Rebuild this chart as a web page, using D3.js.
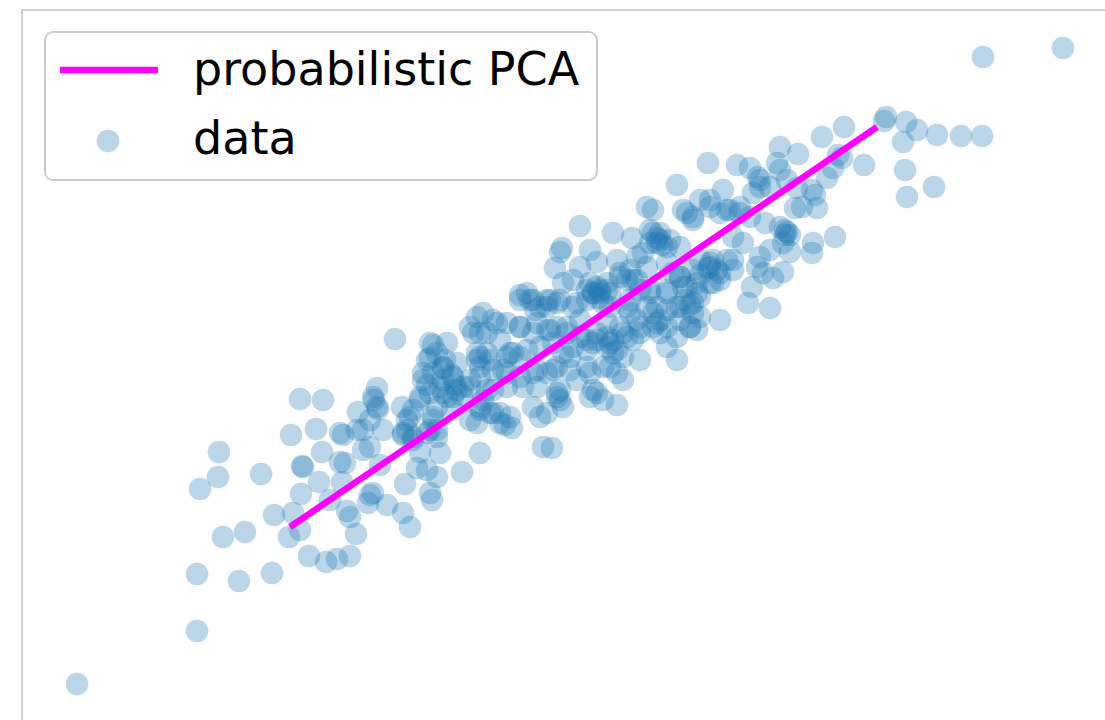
<!DOCTYPE html>
<html>
<head>
<meta charset="utf-8">
<script src="https://cdn.jsdelivr.net/npm/d3@7"></script>
<style>
  html, body { margin: 0; padding: 0; background: #ffffff; }
  svg { display: block; font-family: "DejaVu Sans", sans-serif; }
</style>
</head>
<body>
<svg id="chart" width="1105" height="720"></svg>
<script>
var width = 1105;
var height = 720;

// scatter data (x to the right, y upwards)
var dataX = [
  77, 197, 197, 239, 272, 223, 245, 200, 218, 219, 261, 291, 316, 274, 293, 289, 300, 301, 302, 303,
  319, 322, 330, 309, 326, 337, 350, 356, 350, 347, 370, 368, 345, 342, 370, 340, 357,
  395, 300, 323, 377, 374, 358, 378, 383, 387, 403, 410, 402, 410, 407, 403, 420, 427, 423, 430,
  433, 447, 443, 440, 452, 457, 447, 433, 437, 427, 413, 420, 427, 417, 437, 440, 430, 432, 462,
  480, 470, 470, 473, 477, 470, 457, 463, 452, 543, 552, 405,
  580, 613, 632, 562, 560, 590, 555, 580, 597, 617, 647, 653, 683, 693, 710, 720, 650, 660, 657, 670,
  680, 637, 630, 647, 667, 680, 693, 710, 713, 720, 713, 697, 687, 667, 650, 637, 620, 607, 590, 593,
  573, 563, 527, 520, 533, 540, 550, 547, 560, 573, 587, 600, 603, 630, 637, 647, 653, 667, 680, 693,
  700, 690, 697, 720, 680, 677, 660, 653, 640, 633, 623, 613, 607, 597, 587, 580, 567, 557, 547, 533,
  520, 507, 493, 483, 487, 500, 513, 507, 527, 540, 553, 563, 573, 587, 593, 607, 613, 623, 640, 667,
  677, 487, 480, 493, 507, 520, 533, 547, 557, 570, 577, 590, 603, 617, 623, 593, 603, 617, 590, 557,
  560, 537, 523, 507, 493, 483, 500, 510, 500, 533, 547, 563, 540,
  708, 677, 700,
  780, 798, 737, 750, 758, 777, 780, 787, 760, 753, 770, 797, 723, 730, 740, 750, 765, 780, 787, 790,
  783, 835, 813, 812, 790, 770, 760, 757, 743, 733, 733, 763, 773, 783, 752, 748, 770, 795,
  983, 1063, 886, 884, 906, 917, 937, 961, 982, 903, 905, 934, 907, 844, 822, 838, 842, 864, 833, 827,
  812, 815, 817, 802,
  530, 547, 557, 587, 597, 607, 627, 577, 550, 567, 580, 597, 610, 617, 510, 520, 490, 480, 537, 553,
  570, 560, 557, 597, 480, 493, 503, 587, 610, 627, 477, 497, 520, 537,
  653, 660, 650, 667, 643, 687, 693, 710, 727, 740, 710, 717, 700, 727, 733, 680, 673, 683, 697, 710,
  667, 650, 633, 620, 610, 600, 610, 627, 657, 677, 693, 700, 657, 667, 690, 640, 620, 607,
  430, 437, 427, 443, 433, 423, 443, 453, 430, 443, 453, 420, 413, 437, 407, 433, 373, 377, 370, 403,
  413, 430, 437, 477, 480, 470, 487, 480, 490, 477, 480,
  340, 363, 373, 343, 785, 760,
  657, 662, 593, 598, 708, 700, 785, 505, 512, 685, 690, 630, 640, 455, 462, 445, 520, 535, 363, 380,
  720, 660
];
var dataY = [
  36, 89, 146, 139, 147, 183, 188, 231, 243, 268, 246, 285, 291, 205, 207, 183, 190, 226, 254, 253,
  238, 268, 220, 164, 158, 161, 164, 186, 203, 209, 225, 217, 257, 238, 273, 287, 290,
  381, 321, 320, 332, 320, 308, 311, 290, 215, 207, 193, 313, 303, 290, 285, 323, 335, 347, 362,
  375, 377, 352, 333, 345, 357, 323, 303, 290, 287, 280, 268, 250, 252, 243, 267, 227, 220, 248,
  267, 300, 393, 387, 367, 340, 330, 333, 312, 273, 272, 236,
  494, 487, 482, 472, 468, 470, 452, 453, 458, 460, 513, 510, 510, 503, 513, 507, 490, 487, 477, 480,
  473, 463, 450, 453, 457, 443, 450, 453, 460, 447, 437, 427, 433, 430, 427, 440, 443, 437, 437, 427,
  440, 437, 427, 425, 420, 413, 420, 413, 420, 413, 420, 427, 417, 407, 400, 413, 407, 410, 413, 417,
  403, 393, 390, 400, 400, 383, 387, 393, 387, 380, 387, 380, 383, 387, 380, 400, 393, 393, 390, 387,
  393, 397, 400, 407, 387, 380, 367, 363, 370, 373, 377, 367, 373, 370, 377, 373, 367, 363, 360, 373,
  360, 367, 353, 350, 347, 343, 347, 347, 353, 350, 340, 347, 353, 347, 340, 330, 320, 315, 323, 327,
  320, 333, 333, 333, 330, 320, 307, 303, 297, 313, 307, 313, 303,
  557, 535, 520,
  573, 566, 555, 552, 543, 557, 550, 540, 533, 527, 533, 532, 530, 510, 513, 503, 497, 493, 488, 485,
  477, 483, 477, 467, 468, 470, 463, 453, 477, 483, 460, 447, 442, 448, 433, 417, 412, 512,
  663, 672, 603, 599, 598, 590, 585, 584, 584, 578, 550, 533, 523, 593, 583, 565, 562, 555, 552, 542,
  530, 525, 512, 513,
  420, 420, 417, 430, 433, 430, 440, 417, 390, 387, 383, 380, 377, 370, 367, 363, 360, 363, 350, 350,
  363, 330, 323, 327, 310, 307, 350, 353, 353, 383, 403, 397, 393, 397,
  487, 480, 477, 473, 467, 507, 500, 520, 510, 507, 457, 450, 460, 460, 450, 443, 447, 433, 437, 437,
  427, 430, 440, 447, 427, 430, 413, 413, 413, 413, 407, 423, 397, 393, 393, 393, 393, 397,
  377, 367, 360, 353, 347, 340, 340, 343, 327, 327, 323, 320, 310, 313, 300, 300, 323, 313, 300, 287,
  283, 290, 283, 360, 343, 333, 330, 313, 307, 297, 387,
  258, 290, 227, 285, 490, 540,
  482, 475, 427, 422, 452, 445, 485, 295, 292, 420, 415, 420, 430, 335, 325, 360, 420, 410, 270, 255,
  440, 400
];

// fitted probabilistic PCA line (two end points)
var lineX = [290, 877];
var lineY = [193, 593];

var seriesNames = ["probabilistic PCA", "data"];

var svg = d3.select("#chart");

var x = d3.scaleLinear().domain([0, width]).range([0, width]);
var y = d3.scaleLinear().domain([0, height]).range([height, 0]);

// axes frame (only left and top spines are inside the picture)
svg.append("rect")
    .attr("x", 22)
    .attr("y", 10)
    .attr("width", 1200)
    .attr("height", 800)
    .attr("fill", "none")
    .attr("stroke", "#cfcfcf")
    .attr("stroke-width", 2);

var points = d3.range(dataX.length).map(function (i) {
    return { x: dataX[i], y: dataY[i] };
});

svg.append("g")
    .selectAll("circle")
    .data(points)
    .enter()
    .append("circle")
    .attr("cx", function (d) { return x(d.x); })
    .attr("cy", function (d) { return y(d.y); })
    .attr("r", 11.3)
    .attr("fill", "#1f77b4")
    .attr("fill-opacity", 0.3);

// PCA line
var line = d3.line()
    .x(function (d) { return x(d[0]); })
    .y(function (d) { return y(d[1]); });

svg.append("path")
    .datum(d3.zip(lineX, lineY))
    .attr("d", line)
    .attr("fill", "none")
    .attr("stroke", "#ff00ff")
    .attr("stroke-width", 6.5);

// legend
var legend = svg.append("g");
legend.append("rect")
    .attr("x", 45)
    .attr("y", 32)
    .attr("width", 552)
    .attr("height", 148)
    .attr("rx", 8)
    .attr("fill", "#ffffff")
    .attr("fill-opacity", 0.8)
    .attr("stroke", "#cccccc")
    .attr("stroke-width", 2);

legend.append("line")
    .attr("x1", 60)
    .attr("x2", 158)
    .attr("y1", 70)
    .attr("y2", 70)
    .attr("stroke", "#ff00ff")
    .attr("stroke-width", 6.5);

legend.append("circle")
    .attr("cx", 108)
    .attr("cy", 141)
    .attr("r", 11.3)
    .attr("fill", "#1f77b4")
    .attr("fill-opacity", 0.3);

legend.selectAll("text")
    .data(seriesNames)
    .enter()
    .append("text")
    .attr("x", 193)
    .attr("y", function (d, i) { return i === 0 ? 85 : 154; })
    .attr("font-size", "46px")
    .attr("fill", "#000000")
    .text(function (d) { return d; });
</script>
</body>
</html>
